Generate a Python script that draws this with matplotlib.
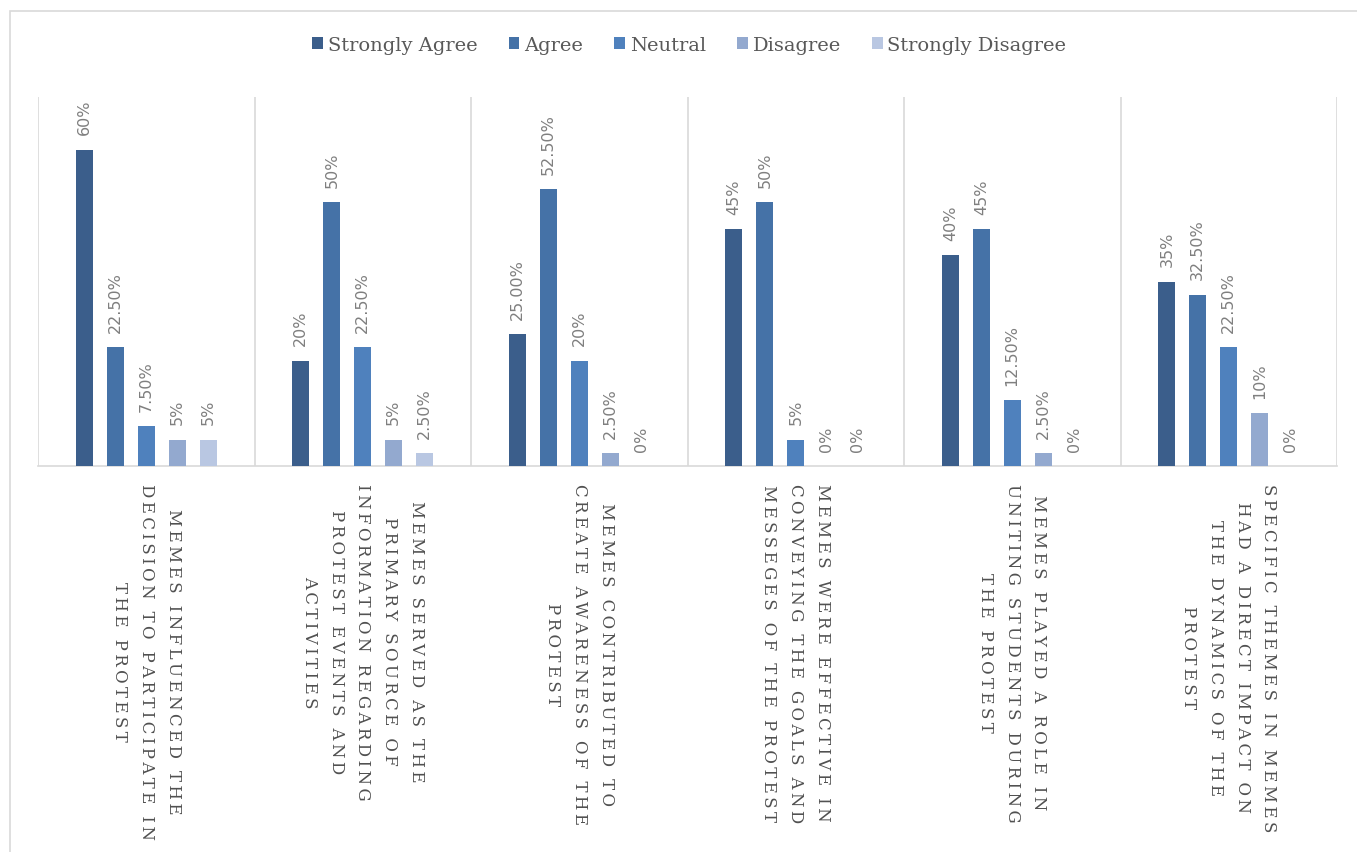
import matplotlib
matplotlib.use('Agg')
import matplotlib.pyplot as plt
import matplotlib.patches as mpatches
import numpy as np

series = ['Strongly Agree', 'Agree', 'Neutral', 'Disagree', 'Strongly Disagree']
colors = ['#3b5e8b', '#4572a7', '#4f81bd', '#93a9cf', '#b9c7e2']

categories = [
    ['MEMES INFLUENCED THE', 'DECISION TO PARTICIPATE IN', 'THE PROTEST'],
    ['MEMES SERVED AS THE', 'PRIMARY SOURCE OF', 'INFORMATION REGARDING', 'PROTEST EVENTS AND', 'ACTIVITIES'],
    ['MEMES CONTRIBUTED TO', 'CREATE AWARENESS OF THE', 'PROTEST'],
    ['MEMES WERE EFFECTIVE IN', 'CONVEYING THE GOALS AND', 'MESSEGES OF THE PROTEST'],
    ['MEMES PLAYED A ROLE IN', 'UNITING STUDENTS DURING', 'THE PROTEST'],
    ['SPECIFIC THEMES IN MEMES', 'HAD A DIRECT IMPACT ON', 'THE DYNAMICS OF THE', 'PROTEST'],
]

# values per series, one per category (percent)
strongly_agree = [60, 20, 25, 45, 40, 35]
agree = [22.5, 50, 52.5, 50, 45, 32.5]
neutral = [7.5, 22.5, 20, 5, 12.5, 22.5]
disagree = [5, 5, 2.5, 0, 2.5, 10]
strongly_disagree = [5, 2.5, 0, 0, 0, 0]

# labels as printed on the chart
labels_sa = ['60%', '20%', '25.00%', '45%', '40%', '35%']
labels_a = ['22.50%', '50%', '52.50%', '50%', '45%', '32.50%']
labels_n = ['7.50%', '22.50%', '20%', '5%', '12.50%', '22.50%']
labels_d = ['5%', '5%', '2.50%', '0%', '2.50%', '10%']
labels_sd = ['5%', '2.50%', '0%', '0%', '0%', '0%']

values = [strongly_agree, agree, neutral, disagree, strongly_disagree]
labels = [labels_sa, labels_a, labels_n, labels_d, labels_sd]

fig = plt.figure(figsize=(13.57, 8.53), dpi=100)
ax = fig.add_axes([38 / 1357, 1 - 467 / 853, (1337 - 38) / 1357, (467 - 98) / 853])

x = np.arange(len(categories))
step = 0.143
width = 0.08
for i, (vals, labs) in enumerate(zip(values, labels)):
    pos = x + (i - 2) * step
    ax.bar(pos, vals, width, color=colors[i], label=series[i], zorder=3)
    for px, v, lab in zip(pos, vals, labs):
        ax.annotate(lab, (px, v), xytext=(0, 11), textcoords='offset points',
                    rotation=90, ha='center', va='bottom', fontsize=11.5,
                    color='#7f7f7f', family='DejaVu Sans')

ax.set_xlim(-0.5, len(categories) - 0.5)
ax.set_ylim(0, 70)
ax.set_yticks([])
ax.set_xticks(np.arange(-0.5, len(categories)), minor=True)
ax.set_xticks([])
ax.grid(True, which='minor', axis='x', color='#d9d9d9', lw=1.2, zorder=0)
ax.tick_params(which='both', length=0)
for s in ['top', 'left', 'right']:
    ax.spines[s].set_visible(False)
ax.spines['bottom'].set_color('#d9d9d9')
ax.spines['bottom'].set_linewidth(1.2)

for xi, lines in zip(x, categories):
    txt = '\n'.join('\u2009'.join(line) for line in lines)
    ax.text(xi, -0.045, txt, transform=ax.get_xaxis_transform(), rotation=270,
            ha='center', va='top', multialignment='center', fontsize=12,
            color='#505050', family='DejaVu Serif', linespacing=1.75)

fig.legend(loc='center', bbox_to_anchor=(0.508, 1 - 46 / 853), ncol=5, frameon=False,
           handlelength=0.55, handleheight=0.55, handletextpad=0.25, columnspacing=1.6,
           prop={'family': 'DejaVu Serif', 'size': 14}, labelcolor='#595959')

fig.patches.append(mpatches.Rectangle((10 / 1357, -0.05), 1.0, 1 - 12 / 853 + 0.05,
                                      transform=fig.transFigure, fill=False,
                                      edgecolor='#d9d9d9', lw=1.2))

fig.savefig('out.png', dpi=100, facecolor='white')
